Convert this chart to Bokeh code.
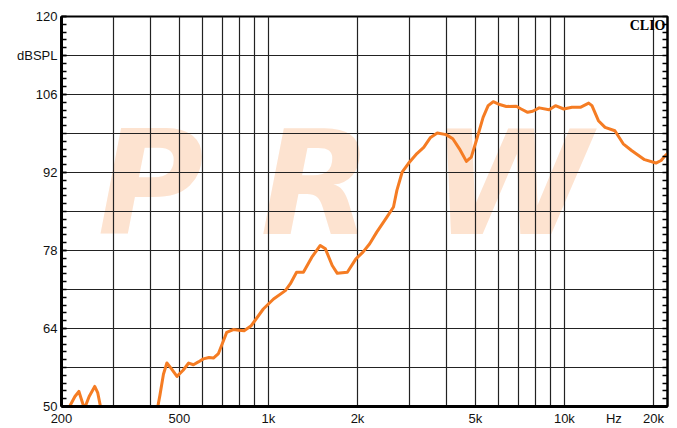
from bokeh.plotting import figure
from bokeh.models import Range1d, FixedTicker, LinearAxis, Label
from bokeh.core.properties import value
from bokeh.embed import file_html
from bokeh.resources import INLINE

# ---- data ----
freq = [200, 205, 213, 222, 229, 239, 248, 259, 265, 272, 290, 350, 400, 418, 430, 442,
        454, 470, 491, 515, 538, 558, 580, 603, 630, 652, 678, 705, 723, 761, 795, 828,
        875, 961, 1041, 1141, 1185, 1245, 1313, 1402, 1497, 1558, 1643, 1709, 1848, 1975,
        2087, 2199, 2323, 2513, 2646, 2717, 2830, 2970, 3175, 3348, 3530, 3720, 3985, 4198,
        4420, 4665, 4846, 5040, 5313, 5526, 5748, 6044, 6364, 6878, 7143, 7515, 7815, 8218,
        8874, 9330, 9950, 10600, 11320, 12080, 12390, 13030, 13720, 14810, 15800, 16860,
        18660, 20380, 21220, 21800, 22300]
spl = [47.5, 48.5, 50.0, 51.8, 52.7, 49.6, 51.8, 53.6, 52.5, 49.5, 45.0, 43.0, 45.0, 48.5, 52.0, 55.8,
       57.8, 56.8, 55.4, 56.5, 57.8, 57.5, 58.0, 58.55, 58.8, 58.7, 59.5, 61.8, 63.3, 63.8, 63.7, 63.6,
       64.5, 67.5, 69.3, 70.8, 72.0, 74.1, 74.1, 76.8, 78.9, 78.3, 75.3, 73.9, 74.1, 76.5,
       77.7, 79.2, 81.3, 84.0, 85.8, 88.8, 92.05, 93.6, 95.4, 96.5, 98.3, 99.1, 98.8, 98.05,
       96.25, 94.0, 94.75, 97.7, 101.9, 104.0, 104.7, 104.2, 103.85, 103.9, 103.4, 102.8, 103.0, 103.6,
       103.25, 104.0, 103.4, 103.7, 103.7, 104.45, 104.0, 101.3, 100.1, 99.5, 97.15, 95.95,
       94.3, 93.7, 94.15, 94.9, 95.4]

x_tick_values = [200, 500, 1000, 2000, 5000, 10000, 14700, 20000]
x_tick_labels = ["200", "500", "1k", "2k", "5k", "10k", "Hz", "20k"]
x_grid_values = [300, 400, 500, 600, 700, 800, 900, 1000, 2000, 3000, 4000, 5000,
                 6000, 7000, 8000, 9000, 10000, 20000]
y_tick_values = [50, 64, 78, 92, 106, 113, 120]
y_tick_labels = ["50", "64", "78", "92", "106", "dBSPL", "120"]
y_grid_values = [57, 64, 71, 78, 85, 92, 99, 106, 113]
y_minor = [round(50 + 1.4 * i, 2) for i in range(51)]

wm_letters = ["P", "R", "W"]
wm_x = [400, 1450, 6600]
wm_y = [90.0, 90.0, 90.0]

# ---- figure ----
p = figure(width=677, height=428, x_axis_type="log",
           x_range=Range1d(200, 22300), y_range=Range1d(50, 120),
           output_backend="svg", toolbar_location=None,
           min_border_left=61, min_border_right=10, min_border_top=16, min_border_bottom=22)
p.background_fill_color = "white"
p.border_fill_color = "white"
p.outline_line_color = "black"
p.outline_line_width = 2

# watermark
p.text(x=wm_x, y=wm_y, text=wm_letters, text_font=value("DejaVu Sans"),
       text_font_style="bold italic", text_font_size="145px", text_color="#fde3d0",
       text_align="center", text_baseline="middle", level="underlay")

# grids
p.xgrid.ticker = FixedTicker(ticks=x_grid_values)
p.ygrid.ticker = FixedTicker(ticks=y_grid_values)
for g in (p.xgrid, p.ygrid):
    g.grid_line_color = "#222222"
    g.grid_line_width = 1.2
    g.grid_line_alpha = 1.0
    g.level = "underlay"

# x axis
xa = p.xaxis[0]
xa.ticker = FixedTicker(ticks=x_tick_values, minor_ticks=[])
xa.major_label_overrides = {v: t for v, t in zip(x_tick_values, x_tick_labels)}
xa.axis_line_width = 3
xa.axis_line_color = "black"
xa.major_tick_in = 0
xa.major_tick_out = 0
xa.minor_tick_in = 0
xa.minor_tick_out = 0
xa.major_label_standoff = 4
xa.major_label_text_font = "Liberation Sans"
xa.major_label_text_font_size = "13px"
xa.major_label_text_color = "#111111"

# y axis
ya = p.yaxis[0]
ya.ticker = FixedTicker(ticks=y_tick_values, minor_ticks=y_minor)
ya.major_label_overrides = {v: t for v, t in zip(y_tick_values, y_tick_labels)}
ya.axis_line_width = 3
ya.axis_line_color = "black"
ya.major_tick_in = 5
ya.major_tick_out = 0
ya.minor_tick_in = 5
ya.minor_tick_out = 0
ya.major_tick_line_width = 1.5
ya.minor_tick_line_width = 1.5
ya.major_label_standoff = 4
ya.major_label_text_font = "Liberation Sans"
ya.major_label_text_font_size = "13px"
ya.major_label_text_color = "#111111"

# right axis: inward minor ticks only, no labels
ra = LinearAxis(ticker=FixedTicker(ticks=[], minor_ticks=y_minor))
ra.axis_line_width = 2
ra.axis_line_color = "black"
ra.major_tick_in = 0
ra.major_tick_out = 0
ra.minor_tick_in = 5
ra.minor_tick_out = 0
ra.minor_tick_line_width = 1.5
ra.major_label_standoff = 0
p.add_layout(ra, "right")

# curve
p.line(freq, spl, line_color="#f57c23", line_width=3, line_join="round")

# CLIO tag
p.add_layout(Label(x=22300, y=120, text="CLIO", text_align="right", text_baseline="top",
                   x_offset=-2, y_offset=-1, text_font="Liberation Serif",
                   text_font_style="bold", text_font_size="14px", text_color="black"))

open("out.html", "w").write(file_html(p, INLINE))
